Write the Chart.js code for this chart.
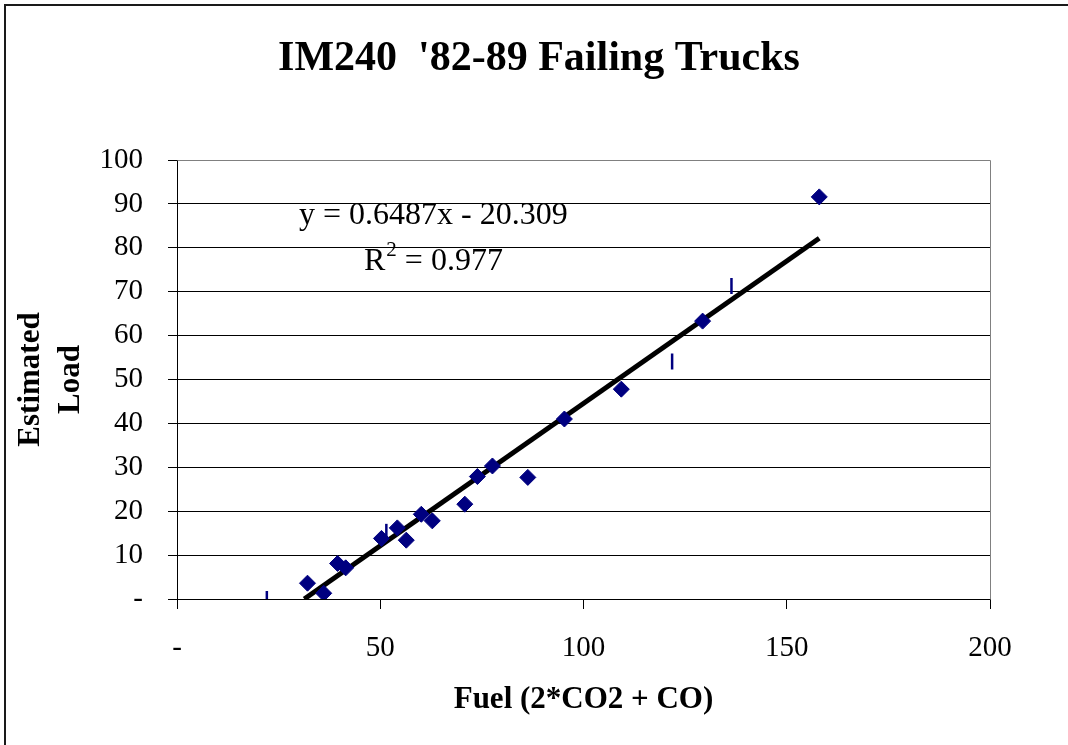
<!DOCTYPE html>
<html>
<head>
<meta charset="utf-8">
<script src="https://cdn.jsdelivr.net/npm/chart.js@4"></script>
<style>
html,body{margin:0;padding:0;background:#fff;}
#wrap{width:1068px;height:745px;position:relative;}
</style>
</head>
<body>
<div id="wrap"><canvas id="c" width="1068" height="745"></canvas></div>
<script>
// ---- data ----
const failX = [32.1, 36.1, 39.5, 41.5, 50.3, 54.2, 56.4, 60.1, 62.8, 70.8, 73.9, 77.6, 86.3, 95.3, 109.3, 129.3, 158.0];
const failY = [3.6, 1.3, 8.1, 7.1, 13.8, 16.2, 13.4, 19.3, 17.8, 21.6, 27.9, 30.3, 27.7, 41.0, 47.8, 63.3, 91.6];
const dashX = [22.1, 51.5, 121.8, 136.4];
const dashY = [0.0, 15.3, 54.1, 71.3];
const trendSlope = 0.6487;
const trendIntercept = -20.309;
const rSquared = 0.977;
const xTicks = [0, 50, 100, 150, 200];
const yTicks = [0, 10, 20, 30, 40, 50, 60, 70, 80, 90, 100];
const titleText = "IM240  '82-89 Failing Trucks";
const xTitle = 'Fuel (2*CO2 + CO)';
const yTitle = ['Estimated', 'Load'];

const toPts = (xs, ys) => xs.map((x, i) => ({x: x, y: ys[i]}));
const trendStartX = -trendIntercept / trendSlope;
const trendEndX = Math.max(...failX);
const trendPts = [trendStartX, trendEndX].map(x => ({x: x, y: trendSlope * x + trendIntercept}));

const SERIF = '"Liberation Serif", "Times New Roman", serif';
const NAVY = '#000080';

const framePlugin = {
  id: 'frame',
  beforeDraw(chart) {
    const ctx = chart.ctx;
    ctx.save();
    ctx.fillStyle = '#fff';
    ctx.fillRect(0, 0, chart.width, chart.height);
    ctx.strokeStyle = '#1a1a1a';
    ctx.lineWidth = 2;
    ctx.beginPath();
    ctx.moveTo(5, chart.height);
    ctx.lineTo(5, 5);
    ctx.lineTo(chart.width, 5);
    ctx.stroke();
    ctx.restore();
  },
  beforeDatasetsDraw(chart) {
    const {ctx, chartArea: a} = chart;
    ctx.save();
    ctx.strokeStyle = '#808080';
    ctx.lineWidth = 1;
    ctx.beginPath();
    ctx.moveTo(Math.round(a.left) + 0.5, Math.round(a.top) + 0.5);
    ctx.lineTo(Math.round(a.right) + 0.5, Math.round(a.top) + 0.5);
    ctx.lineTo(Math.round(a.right) + 0.5, Math.round(a.bottom) + 0.5);
    ctx.stroke();
    ctx.restore();
  },
  afterDraw(chart) {
    const ctx = chart.ctx;
    ctx.save();
    ctx.fillStyle = '#000';
    ctx.textBaseline = 'alphabetic';
    // title
    ctx.font = 'bold 42px ' + SERIF;
    ctx.textAlign = 'center';
    ctx.fillText(titleText, 539, 70);
    // regression equation
    ctx.textAlign = 'left';
    ctx.font = '32px ' + SERIF;
    const eq = 'y = ' + trendSlope + 'x - ' + Math.abs(trendIntercept);
    ctx.fillText(eq, 299, 224);
    ctx.fillText('R', 364, 270);
    const rw = ctx.measureText('R').width;
    ctx.font = '21px ' + SERIF;
    ctx.fillText('2', 364 + rw + 1, 256);
    const sw = ctx.measureText('2').width;
    ctx.font = '32px ' + SERIF;
    ctx.fillText(' = ' + rSquared, 364 + rw + 1 + sw, 270);
    ctx.restore();
  }
};

new Chart(document.getElementById('c'), {
  type: 'scatter',
  data: {
    datasets: [
      {
        label: 'Trend',
        type: 'line',
        data: trendPts,
        borderColor: '#000',
        borderWidth: 5,
        pointRadius: 0,
        fill: false,
        order: 3
      },
      {
        label: 'Failing',
        data: toPts(failX, failY),
        pointStyle: 'rectRot',
        pointRadius: 8,
        backgroundColor: NAVY,
        borderColor: NAVY,
        borderWidth: 1,
        order: 1
      },
      {
        label: 'Other',
        data: toPts(dashX, dashY),
        pointStyle: 'line',
        rotation: 90,
        pointRadius: 8,
        borderColor: NAVY,
        backgroundColor: NAVY,
        borderWidth: 2.5,
        order: 2
      }
    ]
  },
  options: {
    responsive: false,
    animation: false,
    layout: {padding: {left: 0, top: 160, right: 78, bottom: 0}},
    plugins: {
      legend: {display: false},
      tooltip: {enabled: false},
      title: {display: false}
    },
    scales: {
      x: {
        type: 'linear',
        min: 0, max: 200,
        afterBuildTicks: s => { s.ticks = xTicks.map(v => ({value: v})); },
        afterFit: s => { s.height = 146; },
        ticks: {
          color: '#000',
          font: {family: SERIF, size: 29},
          padding: 22,
          maxRotation: 0,
          callback: v => v === 0 ? '-' : String(v)
        },
        grid: {drawOnChartArea: false, drawTicks: true, tickLength: 10, color: '#000'},
        border: {color: '#000', width: 1},
        title: {
          display: true, text: xTitle, color: '#000',
          font: {family: SERIF, size: 31, weight: 'bold'},
          padding: {top: 0, bottom: 26}
        }
      },
      y: {
        type: 'linear',
        min: 0, max: 100,
        afterBuildTicks: s => { s.ticks = yTicks.map(v => ({value: v})); },
        afterFit: s => { s.width = 177; },
        ticks: {
          color: '#000',
          font: {family: SERIF, size: 29},
          padding: 25,
          callback: v => v === 0 ? '-' : String(v)
        },
        grid: {color: '#000', lineWidth: 1, tickLength: 9, drawTicks: true},
        border: {color: '#000', width: 1},
        title: {
          display: true, text: yTitle, color: '#000',
          font: {family: SERIF, size: 31, weight: 'bold', lineHeight: 1.3},
          padding: {top: 11, bottom: 0}
        }
      }
    }
  },
  plugins: [framePlugin]
});
</script>
</body>
</html>
